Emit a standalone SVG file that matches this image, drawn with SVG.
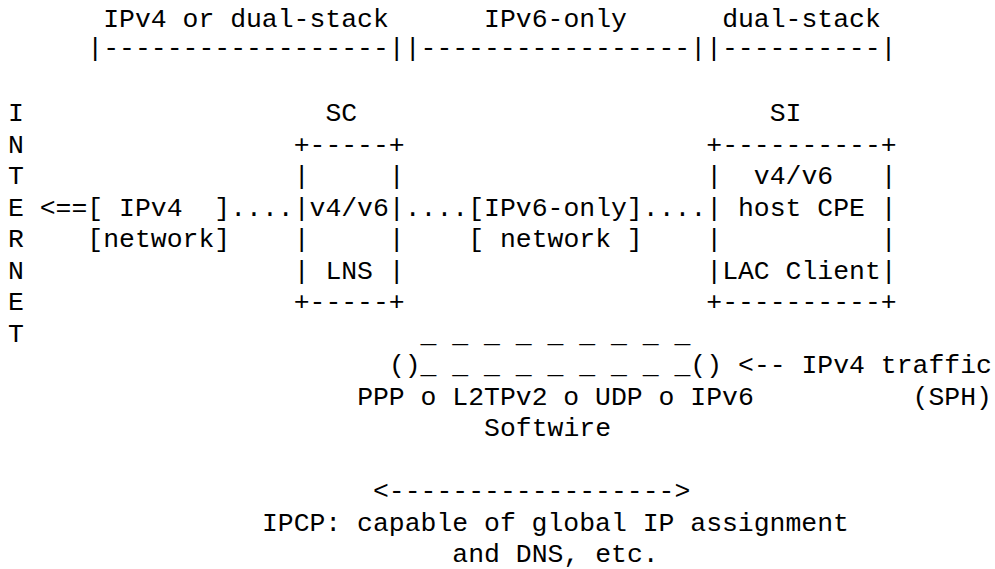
<svg xmlns="http://www.w3.org/2000/svg" width="995" height="569" viewBox="0 0 995 569">
<style>
text{font-family:"Liberation Mono","Courier New",monospace;font-size:26.45px;fill:#000;white-space:pre}
</style>
<rect width="995" height="569" fill="#fff"/>
<g id="zones">
<text x="103.22" y="26.5">IPv4 or dual-stack</text>
<text x="484.1" y="26.5">IPv6-only</text>
<text x="722.15" y="26.5">dual-stack</text>
<text x="87.35" y="56">|------------------||-----------------||----------|</text>
</g>
<g id="internet">
<text x="8" y="121">I</text>
<text x="8" y="152.5">N</text>
<text x="8" y="184">T</text>
<text x="8" y="215.5">E</text>
<text x="8" y="247">R</text>
<text x="8" y="278.5">N</text>
<text x="8" y="310">E</text>
<text x="8" y="341.5">T</text>
</g>
<g id="ipv4-network">
<text x="39.74" y="215.5">&lt;==[ IPv4  ]</text>
<text x="87.35" y="247">[network]</text>
</g>
<g id="sc">
<text x="325.4" y="121">SC</text>
<text x="293.66" y="152.5">+-----+</text>
<text x="293.66" y="184">|     |</text>
<text x="293.66" y="215.5">|v4/v6|</text>
<text x="293.66" y="247">|     |</text>
<text x="293.66" y="278.5">| LNS |</text>
<text x="293.66" y="310">+-----+</text>
</g>
<g id="ipv6-network">
<text x="468.23" y="215.5">[IPv6-only]</text>
<text x="468.23" y="247">[ network ]</text>
</g>
<g id="si">
<text x="769.76" y="121">SI</text>
<text x="706.28" y="152.5">+----------+</text>
<text x="706.28" y="184">|  v4/v6   |</text>
<text x="706.28" y="215.5">| host CPE |</text>
<text x="706.28" y="247">|          |</text>
<text x="706.28" y="278.5">|LAC Client|</text>
<text x="706.28" y="310">+----------+</text>
</g>
<g id="connectors">
<text x="230.18" y="215.5">....</text>
<text x="404.75" y="215.5">....</text>
<text x="642.8" y="215.5">....</text>
</g>
<g id="softwire">
<text x="420.62" y="341.5">_ _ _ _ _ _ _ _ _</text>
<text x="388.88" y="373">()_ _ _ _ _ _ _ _ _()</text>
<text x="738.02" y="373">&lt;-- IPv4 traffic</text>
<text x="357.14" y="404.5">PPP o L2TPv2 o UDP o IPv6</text>
<text x="912.59" y="404.5">(SPH)</text>
<text x="484.1" y="436">Softwire</text>
</g>
<g id="ipcp">
<text x="373.01" y="499">&lt;------------------&gt;</text>
<text x="261.92" y="530.5">IPCP: capable of global IP assignment</text>
<text x="452.36" y="562">and DNS, etc.</text>
</g>
</svg>
